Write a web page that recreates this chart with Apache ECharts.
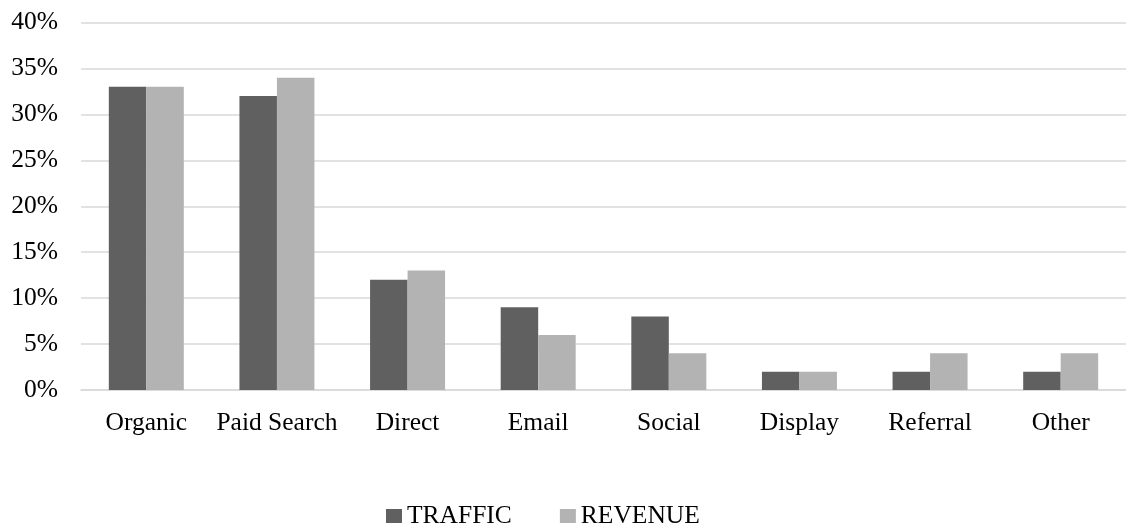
<!DOCTYPE html>
<html>
<head>
<meta charset="utf-8">
<script src="https://cdn.jsdelivr.net/npm/echarts@6/dist/echarts.min.js"></script>
<style>
  html, body { margin: 0; padding: 0; background: #ffffff; }
  #chart { width: 1126px; height: 525px; }
</style>
</head>
<body>
<div id="chart"></div>
<script>
// Share of traffic and revenue by marketing channel (percent)
const channels = ['Organic', 'Paid Search', 'Direct', 'Email', 'Social', 'Display', 'Referral', 'Other'];
const traffic = [33, 32, 12, 9, 8, 2, 2, 2];
const revenue = [33, 34, 13, 6, 4, 2, 4, 4];
const seriesNames = ['TRAFFIC', 'REVENUE'];

const FONT = '"Liberation Serif", "Times New Roman", serif';
const TXT = '#000000';

const chart = echarts.init(document.getElementById('chart'), null, { renderer: 'canvas' });

chart.setOption({
  animation: false,
  backgroundColor: '#ffffff',
  textStyle: { fontFamily: FONT },
  grid: { left: 81, top: 22.5, bottom: 135, right: -6, containLabel: false },
  legend: {
    data: seriesNames,
    left: 386,
    top: 503,
    padding: 0,
    itemWidth: 16,
    itemHeight: 14,
    itemGap: 48,
    icon: 'rect',
    textStyle: { fontFamily: FONT, fontSize: 25.5, color: TXT }
  },
  xAxis: {
    type: 'category',
    data: channels,
    axisTick: { show: false },
    axisLine: { show: true, lineStyle: { color: '#d9d9d9', width: 1.5 } },
    axisLabel: { fontFamily: FONT, fontSize: 25.5, color: TXT, margin: 20, interval: 0 }
  },
  yAxis: {
    type: 'value',
    min: 0,
    max: 40,
    interval: 5,
    axisLine: { show: false },
    axisTick: { show: false },
    axisLabel: { fontFamily: FONT, fontSize: 25.5, color: TXT, margin: 23, formatter: '{value}%' },
    splitLine: { lineStyle: { color: '#d9d9d9', width: 1.5 } }
  },
  series: [
    {
      name: seriesNames[0],
      type: 'bar',
      data: traffic,
      barWidth: 37.5,
      barGap: '0%',
      itemStyle: { color: '#606060' }
    },
    {
      name: seriesNames[1],
      type: 'bar',
      data: revenue,
      barWidth: 37.5,
      barGap: '0%',
      itemStyle: { color: '#b3b3b3' }
    }
  ]
});
</script>
</body>
</html>
